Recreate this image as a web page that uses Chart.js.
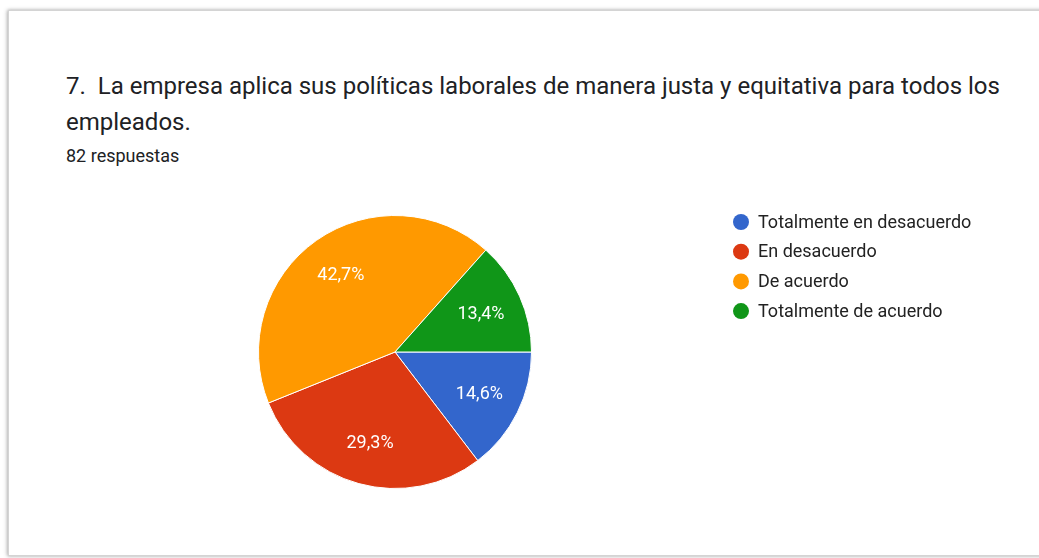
<!DOCTYPE html>
<html>
<head>
<meta charset="utf-8">
<script src="https://cdn.jsdelivr.net/npm/chart.js@4"></script>
<style>
  html, body { margin: 0; padding: 0; background: #fff; }
  body { width: 1039px; height: 558px; position: relative; overflow: hidden; font-family: Roboto, Arial, sans-serif; }
  .card {
    position: absolute; left: 8px; top: 10px; width: 1060px; height: 544px;
    border: 1px solid #d4d4d4; box-shadow: -1px 0 4px rgba(0,0,0,0.25), 0 0 3px rgba(0,0,0,0.15);
    background: #fff;
  }
  .title {
    position: absolute; left: 66px; top: 68px; width: 960px;
    font-size: 24px; line-height: 36px; color: #202124;
  }
  .sub { position: absolute; left: 66px; top: 145px; font-size: 18px; line-height: 21px; color: #202124; }
  #chart { position: absolute; left: 0; top: 0; }
</style>
</head>
<body>
<div class="card"></div>
<div class="title">7.&nbsp; La empresa aplica sus políticas laborales de manera justa y equitativa para todos los empleados.</div>
<div class="sub">82 respuestas</div>
<canvas id="chart" width="1039" height="558"></canvas>
<script>
const labels = ['Totalmente en desacuerdo', 'En desacuerdo', 'De acuerdo', 'Totalmente de acuerdo'];
const counts = [12, 24, 35, 11];
const colors = ['#3366cc', '#dc3912', '#ff9900', '#109618'];

// percentage text inside each slice, comma decimal
const sliceLabels = {
  id: 'sliceLabels',
  afterDatasetsDraw(chart) {
    const ctx = chart.ctx;
    const meta = chart.getDatasetMeta(0);
    const total = counts.reduce((a, b) => a + b, 0);
    ctx.save();
    ctx.font = '18px Roboto, Arial, sans-serif';
    ctx.fillStyle = '#fff';
    ctx.textAlign = 'center';
    ctx.textBaseline = 'middle';
    meta.data.forEach((arc, i) => {
      const p = arc.getProps(['x', 'y', 'startAngle', 'endAngle', 'outerRadius']);
      const a = (p.startAngle + p.endAngle) / 2;
      const r = p.outerRadius * 0.69;
      const txt = (counts[i] / total * 100).toFixed(1).replace('.', ',') + '%';
      ctx.fillText(txt, p.x + Math.cos(a) * r, p.y + Math.sin(a) * r + 1);
    });
    ctx.restore();
  }
};

// legend list on the right
const sideLegend = {
  id: 'sideLegend',
  afterDraw(chart) {
    const ctx = chart.ctx;
    ctx.save();
    ctx.font = '18px Roboto, Arial, sans-serif';
    ctx.textBaseline = 'middle';
    labels.forEach((lab, i) => {
      const y = 222 + i * 29.7;
      ctx.beginPath();
      ctx.arc(741, y, 8, 0, Math.PI * 2);
      ctx.fillStyle = colors[i];
      ctx.fill();
      ctx.fillStyle = '#222';
      ctx.fillText(lab, 758, y + 1);
    });
    ctx.restore();
  }
};

new Chart(document.getElementById('chart'), {
  type: 'pie',
  data: {
    labels: labels,
    datasets: [{
      data: counts,
      backgroundColor: colors,
      borderColor: '#fff',
      borderWidth: 1
    }]
  },
  options: {
    responsive: false,
    animation: false,
    rotation: 90,
    layout: { padding: { left: 258, right: 507, top: 214, bottom: 68 } },
    plugins: {
      legend: { display: false },
      tooltip: { enabled: false }
    }
  },
  plugins: [sliceLabels, sideLegend]
});
</script>
</body>
</html>
